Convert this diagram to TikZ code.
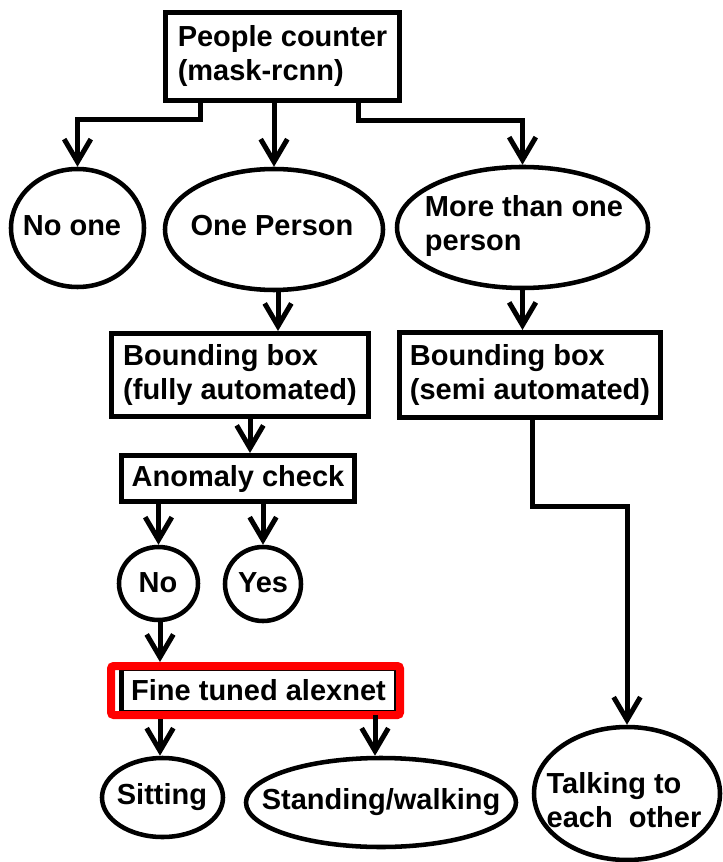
\documentclass[tikz,border=0pt]{standalone}
\usepackage{fontspec}
\setmainfont{Liberation Sans}
\usetikzlibrary{arrows.meta,shapes.geometric}
\begin{document}
\begin{tikzpicture}[x=0.75pt,y=-0.75pt,
  every node/.style={font=\fontsize{21.75}{25.5}\selectfont\bfseries, inner sep=0pt, text=black},
  box/.style={draw, line width=3.75pt, rectangle, align=left},
  oval/.style={draw, line width=3.4pt, ellipse},
  lbl/.style={align=left},
  hlframe/.style={draw=red, line width=6pt, rounded corners=2pt, rectangle},
  arr/.style={line width=3.75pt, line cap=butt, -{Straight Barb[length=17pt,width=20pt,line width=3.75pt]}}
]
\useasboundingbox (0,0) rectangle (722,862);

% rectangles
\node[box, minimum width=234*0.75pt, minimum height=88*0.75pt] (top) at (282.5,56.5) {People counter\\(mask-rcnn)};
\node[box, minimum width=257*0.75pt, minimum height=83*0.75pt] (bbf) at (240,375) {Bounding box\\(fully automated)};
\node[box, minimum width=233*0.75pt, minimum height=46*0.75pt] (anom) at (238,478.5) {Anomaly check};
\node[box, minimum width=261*0.75pt, minimum height=85*0.75pt] (bbs) at (530,375) {Bounding box\\(semi automated)};
\node[box, minimum width=275*0.75pt, minimum height=44*0.75pt] (fine) at (258.5,690) {Fine tuned alexnet};
\node[hlframe, minimum width=289*0.75pt, minimum height=49*0.75pt] (hl) at (255.5,690.5) {};

% ellipses
\node[oval, minimum width=133*0.75pt, minimum height=118*0.75pt] (noone) at (77.5,228) {};
\node[oval, minimum width=218*0.75pt, minimum height=121*0.75pt] (one) at (274,229.5) {};
\node[oval, minimum width=251*0.75pt, minimum height=121*0.75pt] (more) at (522.5,227.5) {};
\node[oval, minimum width=79*0.75pt, minimum height=73*0.75pt] (no) at (158.5,583.5) {};
\node[oval, minimum width=76*0.75pt, minimum height=74*0.75pt] (yes) at (263,584) {};
\node[oval, minimum width=121*0.75pt, minimum height=79*0.75pt] (sit) at (162.5,797.5) {};
\node[oval, minimum width=270*0.75pt, minimum height=89*0.75pt] (stand) at (381,802.5) {};
\node[oval, minimum width=186*0.75pt, minimum height=133*0.75pt] (talk) at (627,793.5) {};

% ellipse texts
\node[lbl] (noone-t) at (72,226) {No one};
\node[lbl] (one-t) at (272,226) {One Person};
\node[lbl] (more-t) at (524,226) {More than one\\person};
\node[lbl] (no-t) at (158,583) {No};
\node[lbl] (yes-t) at (263,583) {Yes};
\node[lbl] (sit-t) at (162,797) {Sitting};
\node[lbl] (stand-t) at (381,802) {Standing/walking};
\node[lbl] (talk-t) at (624,800) {Talking to\\each\ \ other};

% connectors
\draw[arr] (200,0 |- top.south) -- (200,120) -| (noone.north);
\draw[arr] (one.north |- top.south) -- (one.north);
\draw[arr] (358,0 |- top.south) -- (358,121) -| (more.north);
\draw[arr] (278,0 |- one.south) -- (278,0 |- bbf.north);
\draw[arr] (more.south) -- (more.south |- bbs.north);
\draw[arr] (250,0 |- bbf.south) -- (250,0 |- anom.north);
\draw[arr] (no.north |- anom.south) -- (no.north);
\draw[arr] (yes.north |- anom.south) -- (yes.north);
\draw[arr] (160,0 |- no.south) -- (160,0 |- hl.north);
\draw[arr] (160,0 |- hl.south) -- (160,0 |- sit.north);
\draw[arr] (375,0 |- fine.south) -- (375,0 |- stand.north);
\draw[arr] (532,0 |- bbs.south) -- (532,506) -| (talk.north);
\end{tikzpicture}
\end{document}
